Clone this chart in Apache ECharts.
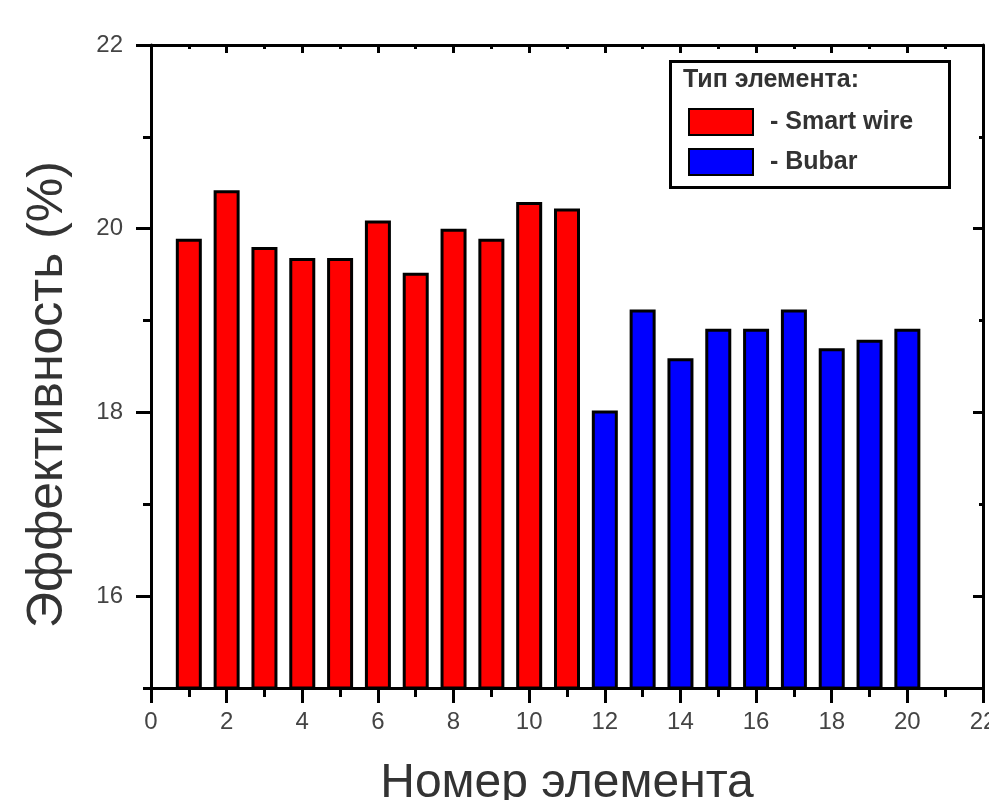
<!DOCTYPE html>
<html>
<head>
<meta charset="utf-8">
<script src="https://cdn.jsdelivr.net/npm/echarts@6/dist/echarts.min.js"></script>
<style>
  html, body { margin: 0; padding: 0; background: #fff; overflow: hidden; }
  #chart { width: 989px; height: 800px; }
</style>
</head>
<body>
<div id="chart"></div>
<script>
// Номер элемента -> эффективность, %
const smartX = [1, 2, 3, 4, 5, 6, 7, 8, 9, 10, 11];
const smartY = [19.89, 20.42, 19.80, 19.68, 19.68, 20.09, 19.52, 20.00, 19.89, 20.29, 20.22];
const busX = [12, 13, 14, 15, 16, 17, 18, 19, 20];
const busY = [18.02, 19.12, 18.59, 18.91, 18.91, 19.12, 18.70, 18.79, 18.91];

const yMajor = [16, 18, 20, 22];
const yMinor = [15, 17, 19, 21];

const seriesNames = ["Smart wire", "Bubar"];
const legendTitle = "Тип элемента:";

const chart = echarts.init(document.getElementById("chart"), null, { renderer: "canvas" });

const ink = "#000";
const lbl = "#444";
const line3 = { show: true, lineStyle: { color: ink, width: 3 } };

function xAxisCfg(pos) {
  const bottom = pos === "bottom";
  return {
    type: "value",
    position: pos,
    min: 0,
    max: 22,
    interval: 2,
    axisLine: line3,
    axisTick: { show: true, inside: !bottom, length: bottom ? 15 : 8, lineStyle: { color: ink, width: 3 } },
    minorTick: { show: true, splitNumber: 2, length: bottom ? 9 : 4, lineStyle: { color: ink, width: 3 } },
    axisLabel: { show: bottom, margin: 22, color: lbl, fontSize: 24, fontFamily: "Liberation Sans, Arial" },
    splitLine: { show: false },
    name: bottom ? "Номер элемента" : "",
    nameLocation: "middle",
    nameGap: 72,
    nameTextStyle: { color: "#333", fontSize: 48, fontFamily: "Liberation Sans, Arial" },
  };
}

function yAxisCfg(pos, ticks, len, withLine, withLabels) {
  const left = pos === "left";
  return {
    type: "value",
    position: pos,
    min: 15,
    max: 22,
    axisLine: withLine ? line3 : { show: false },
    axisTick: { show: true, inside: !left, length: len, customValues: ticks, lineStyle: { color: ink, width: 3 } },
    axisLabel: withLabels
      ? { show: true, customValues: ticks, margin: 28, color: lbl, fontSize: 24, fontFamily: "Liberation Sans, Arial" }
      : { show: false },
    splitLine: { show: false },
    name: withLabels ? "Эффективность (%)" : "",
    nameLocation: "middle",
    nameRotate: 90,
    nameGap: 78,
    nameTextStyle: {
      color: "#333", fontSize: 50, fontFamily: "Liberation Sans, Arial",
      padding: [0, 56, 0, 0],
    },
  };
}

function barSeries(name, xs, ys, color) {
  return {
    name: name,
    type: "bar",
    xAxisIndex: 0,
    yAxisIndex: 0,
    barWidth: 26,
    barGap: "-100%",
    itemStyle: { color: color, borderColor: ink, borderWidth: 3 },
    data: xs.map((x, i) => [x, ys[i]]),
  };
}

chart.setOption({
  animation: false,
  backgroundColor: "#fff",
  grid: { left: 151, right: 6, top: 45, bottom: 112, containLabel: false, outerBoundsMode: "none" },
  xAxis: [xAxisCfg("bottom"), xAxisCfg("top")],
  yAxis: [
    yAxisCfg("left", yMajor, 15, true, true),
    yAxisCfg("left", yMinor, 8, false, false),
    yAxisCfg("right", yMajor, 10, true, false),
    yAxisCfg("right", yMinor, 4, false, false),
  ],
  legend: {
    orient: "vertical",
    left: 688,
    top: 108,
    padding: 0,
    itemWidth: 64,
    itemHeight: 26,
    itemGap: 12,
    icon: "rect",
    selectedMode: false,
    formatter: "- {name}",
    textStyle: {
      color: "#333", fontSize: 25, fontWeight: "bold",
      fontFamily: "Liberation Sans, Arial", padding: [0, 0, 0, 12],
    },
    data: seriesNames,
  },
  graphic: [
    {
      type: "rect",
      left: 668,
      top: 59,
      shape: { width: 279, height: 126 },
      style: { fill: "none", stroke: ink, lineWidth: 3 },
      z: 100,
    },
    {
      type: "text",
      left: 683,
      top: 68,
      style: { text: legendTitle, fill: "#333", font: "bold 25px 'Liberation Sans', Arial" },
      z: 100,
    },
  ],
  series: [
    barSeries(seriesNames[0], smartX, smartY, "#ff0000"),
    barSeries(seriesNames[1], busX, busY, "#0000ff"),
  ],
});
</script>
</body>
</html>
